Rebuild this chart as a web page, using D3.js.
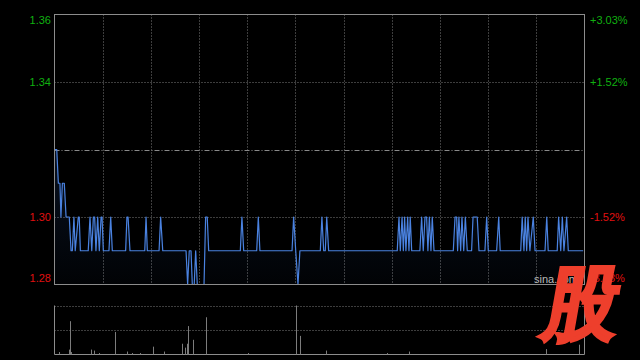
<!DOCTYPE html>
<html>
<head>
<meta charset="utf-8">
<script src="https://cdn.jsdelivr.net/npm/d3@7"></script>
<style>
  html, body { margin: 0; padding: 0; background: #000; }
  #chart { width: 640px; height: 360px; }
  text { font-family: "Liberation Sans", Arial, sans-serif; }
</style>
</head>
<body>
<div id="chart"></div>
<script>
// ---------------- data ----------------
const prevClose = 1.32;
const priceTicks = [1.36, 1.34, 1.30, 1.28];
const pctTicks = ["+3.03%", "+1.52%", "-1.52%", "-3.03%"];

// line vertices: minute index (0..330) and price
const times = [0, 1.4, 2.4, 3.4, 4.0, 4.9, 6.1, 7.2, 9.2, 10.3, 11.1, 12.1, 12.9, 14.8, 15.4, 16.1,
  21.0, 22.1, 23.2, 24.2, 25.0, 25.8, 26.9, 27.9, 29.0, 29.6, 30.4, 33.9, 35.0, 36.0, 44.3, 45.1,
  45.8, 47.0, 56.2, 57.0, 57.8, 65.1, 66.1, 67.4, 81.9, 82.9, 83.9, 85.0, 85.8, 87.0, 87.9, 88.9,
  93.1, 94.1, 95.1, 96.0, 115.7, 116.7, 117.8, 125.9, 126.9, 127.9, 147.9, 148.9, 150.2, 151.6,
  152.8, 165.5, 166.5, 167.6, 168.6, 169.5, 170.7, 213.4, 214.5, 215.3, 216.4, 217.2, 218.0, 218.8,
  219.9, 220.7, 221.5, 222.4, 227.5, 228.6, 229.6, 230.7, 231.7, 232.5, 233.4, 234.4, 235.2, 236.3,
  248.3, 249.4, 250.4, 251.0, 251.8, 252.9, 253.7, 254.8, 255.8, 257.0, 259.7, 260.6, 263.2, 264.3,
  268.0, 269.1, 270.1, 275.3, 276.6, 277.5, 290.3, 291.2, 292.3, 293.1, 294.0, 294.8, 296.0, 298.1,
  299.2, 305.4, 306.5, 307.4, 313.0, 313.9, 315.2, 316.2, 317.2, 318.9, 319.9, 329.2];
const prices = [1.32, 1.32, 1.31, 1.31, 1.30, 1.31, 1.31, 1.30, 1.30, 1.29, 1.29, 1.30, 1.29, 1.30, 1.30, 1.29,
  1.29, 1.30, 1.29, 1.30, 1.30, 1.29, 1.30, 1.29, 1.30, 1.30, 1.29, 1.29, 1.30, 1.29, 1.29, 1.30,
  1.30, 1.29, 1.29, 1.30, 1.29, 1.29, 1.30, 1.29, 1.29, 1.28, 1.29, 1.29, 1.28, 1.28, 1.29, 1.28,
  1.28, 1.30, 1.30, 1.29, 1.29, 1.30, 1.29, 1.29, 1.30, 1.29, 1.29, 1.30, 1.29, 1.28,
  1.29, 1.29, 1.30, 1.29, 1.29, 1.30, 1.29, 1.29, 1.30, 1.29, 1.30, 1.29, 1.30, 1.29,
  1.30, 1.29, 1.30, 1.29, 1.29, 1.30, 1.29, 1.30, 1.30, 1.29, 1.30, 1.29, 1.30, 1.29,
  1.29, 1.30, 1.30, 1.29, 1.30, 1.29, 1.30, 1.29, 1.30, 1.29, 1.29, 1.30, 1.30, 1.29,
  1.29, 1.30, 1.29, 1.29, 1.30, 1.29, 1.29, 1.30, 1.29, 1.30, 1.29, 1.30, 1.29, 1.30,
  1.29, 1.29, 1.30, 1.29, 1.29, 1.30, 1.29, 1.30, 1.29, 1.30, 1.29, 1.29];

// volume bars: minute index and volume (relative units, max 100)
const volTimes = [3, 8.8, 9.8, 10.5, 22.7, 24.8, 27.9, 37.9, 45.3, 48.4, 53.2, 61.5, 68.4, 79.6, 81.4,
  82.7, 83.3, 86.4, 94.5, 120.7, 150.5, 153.0, 169.2, 207.2, 220.5, 305.8, 326.7];
const volumes = [5, 10, 68, 5, 10, 8, 3, 46, 6, 3, 3, 16, 6, 22, 14,
  22, 58, 30, 76, 3, 100, 38, 8, 3, 6, 11, 20];

// ---------------- layout ----------------
const width = 640, height = 360;
const plot = { left: 54.5, right: 584.5, top: 14.5, bottom: 284.5 };
const volPanel = { top: 305.5, bottom: 354.5 };

const svg = d3.select("#chart").append("svg")
  .attr("width", width).attr("height", height)
  .style("background", "#000");

const x = d3.scaleLinear().domain([0, 330]).range([plot.left, plot.right]);
const y = d3.scaleLinear().domain([1.28, 1.36]).range([plot.bottom, plot.top]);
const yVol = d3.scaleLinear().domain([0, 100]).range([volPanel.bottom, volPanel.top]);

const gridColor = "#7a7a7a";
const up = "#10b010", down = "#e01010";

// vertical grid (every 30 minutes)
const vTicks = d3.range(30, 330, 30);
svg.append("g").selectAll("line").data(vTicks).enter().append("line")
  .attr("x1", d => Math.round(x(d)) + 0.5).attr("x2", d => Math.round(x(d)) + 0.5)
  .attr("y1", plot.top).attr("y2", plot.bottom)
  .attr("stroke", gridColor).attr("stroke-width", 1).attr("stroke-dasharray", "1,2");

// horizontal grid
svg.append("g").selectAll("line").data([1.34, 1.30]).enter().append("line")
  .attr("x1", plot.left).attr("x2", plot.right)
  .attr("y1", d => Math.round(y(d)) + 0.5).attr("y2", d => Math.round(y(d)) + 0.5)
  .attr("stroke", gridColor).attr("stroke-dasharray", "1,2");

// previous close line (dash-dot)
svg.append("line")
  .attr("x1", plot.left).attr("x2", plot.right)
  .attr("y1", Math.round(y(prevClose)) + 0.5).attr("y2", Math.round(y(prevClose)) + 0.5)
  .attr("stroke", "#8a8a8a").attr("stroke-dasharray", "5,2,1,2");

// area + line
const pts = times.map((t, i) => [t, prices[i]]);
const defs = svg.append("defs");
const grad = defs.append("linearGradient").attr("id", "fillGrad")
  .attr("x1", 0).attr("y1", 0).attr("x2", 0).attr("y2", 1);
grad.append("stop").attr("offset", "0%").attr("stop-color", "#2a5cb0").attr("stop-opacity", 0.18);
grad.append("stop").attr("offset", "100%").attr("stop-color", "#2a5cb0").attr("stop-opacity", 0.03);

svg.append("path").datum(pts)
  .attr("d", d3.area().x(d => x(d[0])).y0(plot.bottom).y1(d => y(d[1])))
  .attr("fill", "url(#fillGrad)");

svg.append("path").datum(pts)
  .attr("d", d3.line().x(d => x(d[0])).y(d => y(d[1])))
  .attr("fill", "none").attr("stroke", "#4a82e0").attr("stroke-width", 1.2)
  .attr("stroke-linejoin", "round");

// main frame
svg.append("rect")
  .attr("x", plot.left).attr("y", plot.top)
  .attr("width", plot.right - plot.left).attr("height", plot.bottom - plot.top)
  .attr("fill", "none").attr("stroke", "#8c8c8c");

// price labels (left) and percent labels (right)
svg.append("g").selectAll("text").data(priceTicks).enter().append("text")
  .attr("x", 51)
  .attr("y", d => d === 1.36 ? y(d) + 6 : d === 1.28 ? y(d) - 6 : y(d))
  .attr("dy", "0.35em").attr("text-anchor", "end")
  .attr("font-size", 11)
  .attr("fill", d => d > prevClose ? up : down)
  .text(d => d.toFixed(2));

svg.append("g").selectAll("text").data(priceTicks).enter().append("text")
  .attr("x", 590)
  .attr("y", d => d === 1.36 ? y(d) + 6 : d === 1.28 ? y(d) - 6 : y(d))
  .attr("dy", "0.35em").attr("text-anchor", "start")
  .attr("font-size", 11)
  .attr("fill", d => d > prevClose ? up : down)
  .text((d, i) => pctTicks[i]);

// volume panel
svg.append("g").selectAll("line").data([100, 50]).enter().append("line")
  .attr("x1", plot.left).attr("x2", plot.right)
  .attr("y1", d => Math.round(yVol(d)) + 0.5).attr("y2", d => Math.round(yVol(d)) + 0.5)
  .attr("stroke", gridColor).attr("stroke-dasharray", "1,2");

svg.append("path")
  .attr("d", `M${plot.left},${volPanel.top}V${volPanel.bottom}H${plot.right}V${volPanel.top}`)
  .attr("fill", "none").attr("stroke", "#8c8c8c");

svg.append("g").selectAll("line").data(volTimes).enter().append("line")
  .attr("x1", d => Math.round(x(d)) + 0.5).attr("x2", d => Math.round(x(d)) + 0.5)
  .attr("y1", volPanel.bottom).attr("y2", (d, i) => yVol(volumes[i]))
  .attr("stroke", "#7c7c7c").attr("stroke-width", 1);

// watermark logo
svg.append("text")
  .attr("x", 534).attr("y", 283).attr("font-size", 11).attr("fill", "#bbb")
  .text("sina.com");
svg.append("text")
  .attr("transform", "translate(578,331) skewX(-10) scale(0.92,1)")
  .attr("text-anchor", "middle")
  .attr("font-family", "Noto Sans CJK SC")
  .attr("font-weight", 900)
  .attr("font-size", 80)
  .attr("fill", "#ee3f2c")
  .attr("stroke", "#ee3f2c")
  .attr("stroke-width", 3)
  .attr("stroke-linejoin", "miter")
  .text("股");
</script>
</body>
</html>
